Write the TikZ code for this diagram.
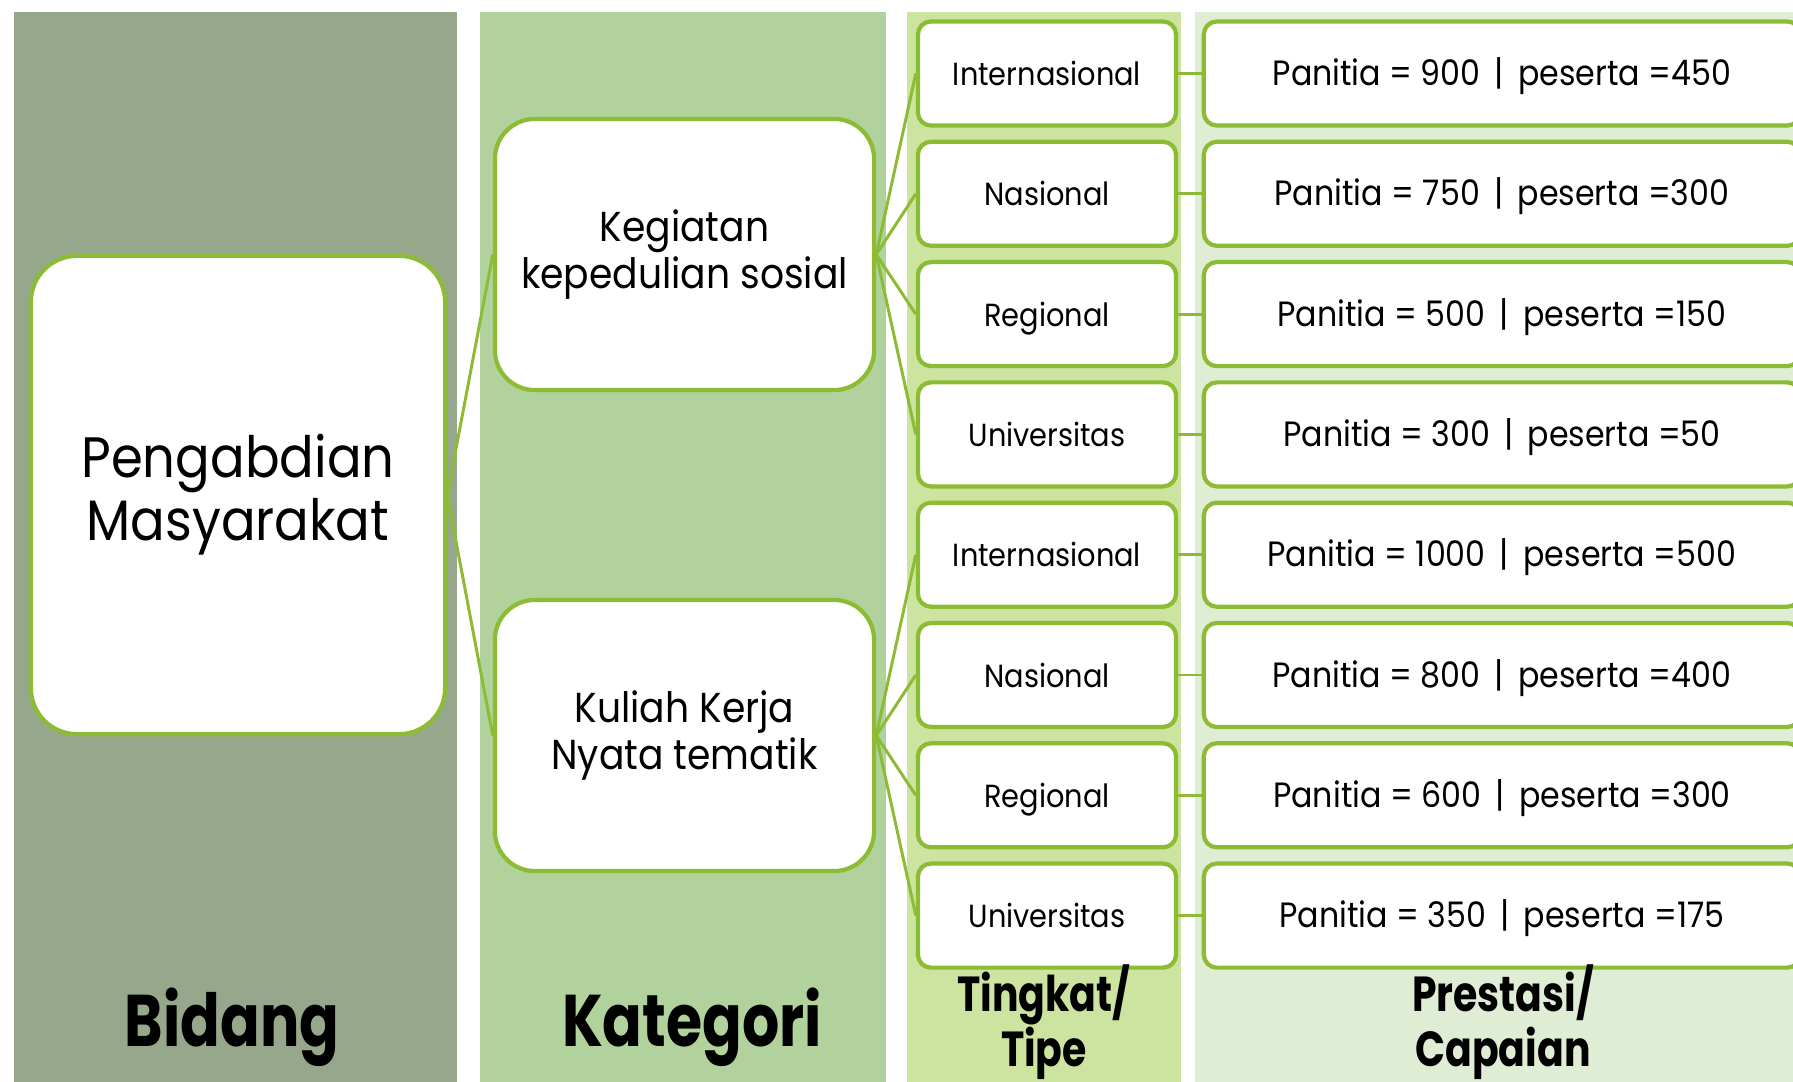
\documentclass[tikz,border=0pt]{standalone}
\usepackage{fontspec}
\setmainfont{Poppins}[FakeStretch=0.9]
\newfontfamily\headfont{Poppins}[FakeStretch=0.8]
\definecolor{bidangbg}{HTML}{97A78B}
\definecolor{kategoribg}{HTML}{B1D29D}
\definecolor{tingkatbg}{HTML}{CDE3A0}
\definecolor{prestasibg}{HTML}{DFEDD4}
\definecolor{boxgreen}{HTML}{8CBB34}

\begin{document}
\begin{tikzpicture}[x=0.01cm, y=-0.01cm,
      bigbox/.style={draw=boxgreen, fill=white, line width=1.2pt, rounded corners=0.46cm,
                    minimum width=4.14cm, minimum height=4.78cm,
                    font=\fontsize{16.2}{18}\selectfont, align=center, inner sep=0pt},
      catbox/.style={draw=boxgreen, fill=white, line width=1.2pt, rounded corners=0.4cm,
                    minimum width=3.79cm, minimum height=2.71cm,
                    font=\fontsize{11.9}{13.4}\selectfont, align=center, inner sep=0pt},
      levelbox/.style={draw=boxgreen, fill=white, line width=1.2pt, rounded corners=0.13cm,
                    minimum width=2.58cm, minimum height=1.04cm,
                    text height=1.6ex, text depth=0.35ex,
                    font=\fontsize{9.1}{11}\selectfont, inner sep=0pt},
      resbox/.style={levelbox, minimum width=5.96cm, font=\fontsize{10}{12}\selectfont},
      headbig/.style={font=\headfont\bfseries\fontsize{20.8}{24}\selectfont},
      headsmall/.style={font=\headfont\bfseries\fontsize{14}{15.6}\selectfont, align=center},
      conn/.style={draw=boxgreen, line width=0.85pt}
    ]
      \clip (0,0) rectangle (1793,1082);
      % column backgrounds
      \fill[bidangbg] (14,12) rectangle (457,1082);
      \fill[kategoribg] (480,12) rectangle (886,1082);
      \fill[tingkatbg] (907,12) rectangle (1181,1082);
      \fill[prestasibg] (1195,12) rectangle (1793,1082);

      \node[bigbox] (pm) at (238,495) {Pengabdian\\Masyarakat};
      \node[catbox] (k1) at (684.5,254.5) {Kegiatan\\kepedulian sosial};
      \node[catbox] (k2) at (684.5,735.5) {Kuliah Kerja\\Nyata tematik};

      \node[levelbox] (t1) at (1047,73.5) {Internasional};
      \node[levelbox] (t2) at (1047,193.8) {Nasional};
      \node[levelbox] (t3) at (1047,314.1) {Regional};
      \node[levelbox] (t4) at (1047,434.4) {Universitas};
      \node[levelbox] (t5) at (1047,554.7) {Internasional};
      \node[levelbox] (t6) at (1047,675) {Nasional};
      \node[levelbox] (t7) at (1047,795.3) {Regional};
      \node[levelbox] (t8) at (1047,915.6) {Universitas};

      \node[resbox] (p1) at (1502,73.5) {Panitia = 900 \,|\, peserta =450};
      \node[resbox] (p2) at (1502,193.8) {Panitia = 750 \,|\, peserta =300};
      \node[resbox] (p3) at (1502,314.1) {Panitia = 500 \,|\, peserta =150};
      \node[resbox] (p4) at (1502,434.4) {Panitia = 300 \,|\, peserta =50};
      \node[resbox] (p5) at (1502,554.7) {Panitia = 1000 \,|\, peserta =500};
      \node[resbox] (p6) at (1502,675) {Panitia = 800 \,|\, peserta =400};
      \node[resbox] (p7) at (1502,795.3) {Panitia = 600 \,|\, peserta =300};
      \node[resbox] (p8) at (1502,915.6) {Panitia = 350 \,|\, peserta =175};

      \node[headbig] (hbidang) at (232,1027) {Bidang};
      \node[headbig] (hkategori) at (692,1027) {Kategori};
      \node[headsmall] (htingkat) at (1044,1022) {Tingkat/\\Tipe};
      \node[headsmall] (hprestasi) at (1503,1022) {Prestasi/\\Capaian};

      \draw[conn] (pm.east) -- (k1.west);
      \draw[conn] (pm.east) -- (k2.west);
      \draw[conn] (k1.east) -- (t1.west);
      \draw[conn] (k1.east) -- (t2.west);
      \draw[conn] (k1.east) -- (t3.west);
      \draw[conn] (k1.east) -- (t4.west);
      \draw[conn] (k2.east) -- (t5.west);
      \draw[conn] (k2.east) -- (t6.west);
      \draw[conn] (k2.east) -- (t7.west);
      \draw[conn] (k2.east) -- (t8.west);
      \draw[conn] (t1) -- (p1);
      \draw[conn] (t2) -- (p2);
      \draw[conn] (t3) -- (p3);
      \draw[conn] (t4) -- (p4);
      \draw[conn] (t5) -- (p5);
      \draw[conn] (t6) -- (p6);
      \draw[conn] (t7) -- (p7);
      \draw[conn] (t8) -- (p8);
    \end{tikzpicture}
\end{document}
